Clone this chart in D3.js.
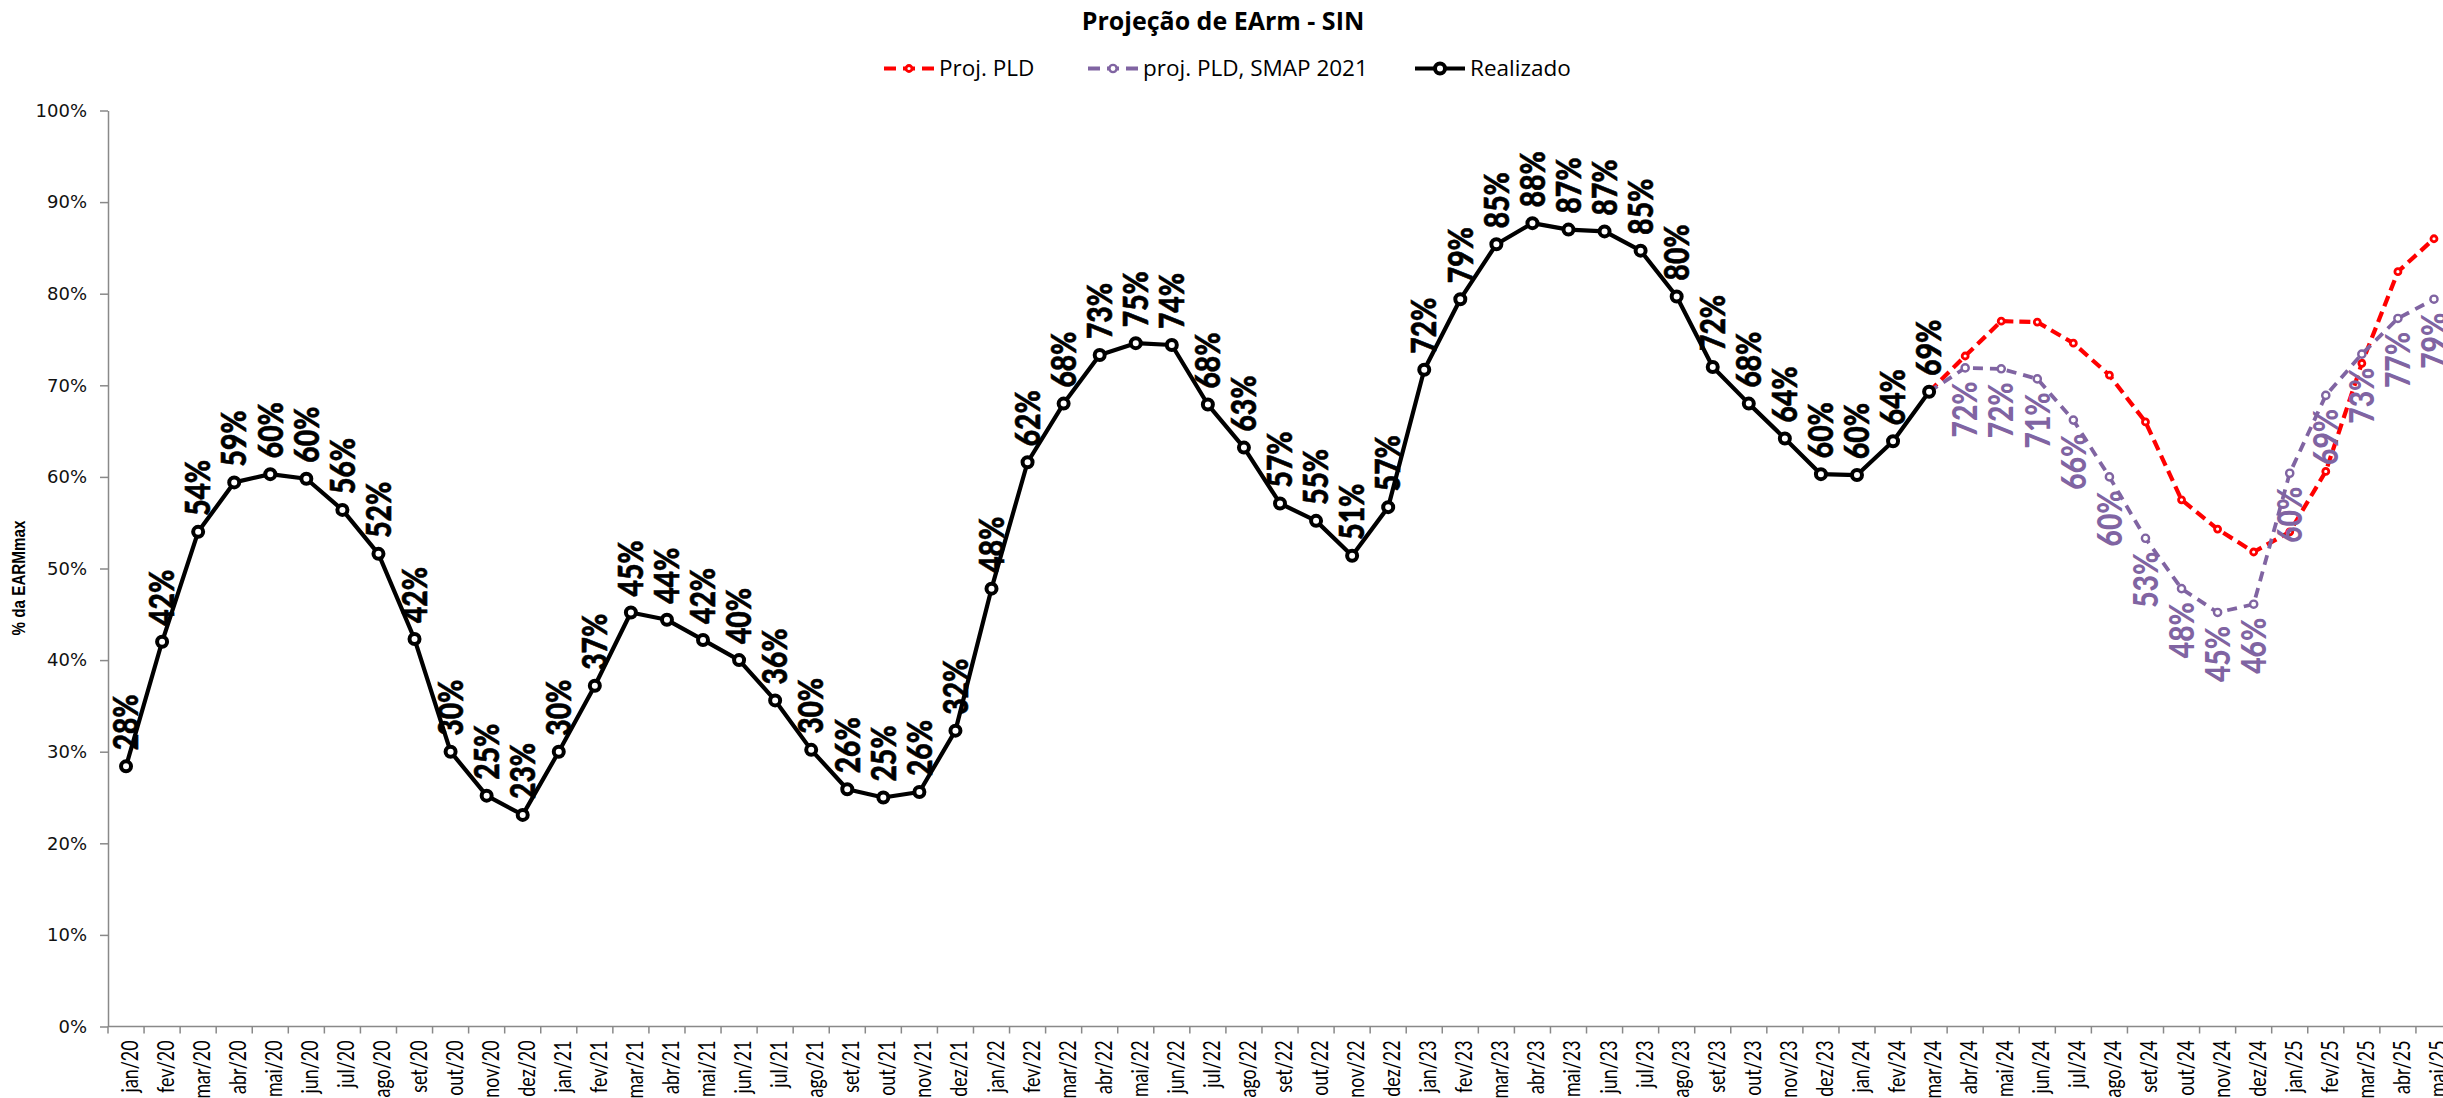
<!DOCTYPE html>
<html>
<head>
<meta charset="utf-8">
<script src="https://cdn.jsdelivr.net/npm/d3@7"></script>
<style>
  html, body { margin: 0; padding: 0; background: #fff; overflow: hidden; }
  svg { display: block; }
</style>
</head>
<body>
<svg id="chart" width="2443" height="1098"></svg>
<script>
// ---- data -------------------------------------------------------------
const months = [
  "jan/20","fev/20","mar/20","abr/20","mai/20","jun/20","jul/20","ago/20","set/20","out/20","nov/20","dez/20",
  "jan/21","fev/21","mar/21","abr/21","mai/21","jun/21","jul/21","ago/21","set/21","out/21","nov/21","dez/21",
  "jan/22","fev/22","mar/22","abr/22","mai/22","jun/22","jul/22","ago/22","set/22","out/22","nov/22","dez/22",
  "jan/23","fev/23","mar/23","abr/23","mai/23","jun/23","jul/23","ago/23","set/23","out/23","nov/23","dez/23",
  "jan/24","fev/24","mar/24","abr/24","mai/24","jun/24","jul/24","ago/24","set/24","out/24","nov/24","dez/24",
  "jan/25","fev/25","mar/25","abr/25","mai/25"
];

// Stored energy (% of EARMmax), observed, jan/20 .. mar/24
const realizado = [
  28.4, 42.0, 54.0, 59.4, 60.3, 59.8, 56.4, 51.6, 42.3, 30.0, 25.2, 23.1,
  30.0, 37.2, 45.2, 44.4, 42.2, 40.0, 35.6, 30.2, 25.9, 25.0, 25.6, 32.3,
  47.8, 61.6, 68.0, 73.3, 74.6, 74.4, 67.9, 63.2, 57.1, 55.2, 51.4, 56.7,
  71.7, 79.4, 85.4, 87.7, 87.0, 86.8, 84.7, 79.7, 72.0, 68.0, 64.2, 60.3,
  60.2, 63.9, 69.3
];

// Projections start from the last observed month
const projStart = "mar/24";
const projPLD = [69.3, 73.2, 77.0, 76.9, 74.6, 71.1, 66.0, 57.5, 54.3, 51.8, 54.0, 60.6, 72.4, 82.4, 86.0];
const projSMAP = [69.3, 71.9, 71.8, 70.7, 66.2, 60.0, 53.3, 47.8, 45.2, 46.1, 60.4, 68.9, 73.4, 77.3, 79.4];

const yTicks = [0, 10, 20, 30, 40, 50, 60, 70, 80, 90, 100];
const seriesNames = ["Proj. PLD", "proj. PLD, SMAP 2021", "Realizado"];
const chartTitle = "Projeção de EArm - SIN";
const yAxisTitle = "% da EARMmax";

// ---- layout -----------------------------------------------------------
const W = 2443, H = 1098;
const plot = { left: 108, right: 2452, top: 110.5, bottom: 1026.5 };
const colors = { pld: "#FF0000", smap: "#8064A2", real: "#000000", axis: "#898989" };
const labelFont = "Lato, 'Open Sans', sans-serif";

const svg = d3.select("#chart");
svg.append("rect").attr("width", W).attr("height", H).attr("fill", "#fff");

const x = d3.scaleBand().domain(months).range([plot.left, plot.right]).padding(0);
const cx = m => x(m) + x.bandwidth() / 2;
const y = d3.scaleLinear().domain([0, 100]).range([plot.bottom, plot.top]);

const pct = v => Math.round(v) + "%";
const startIdx = months.indexOf(projStart);
const realData = realizado.map((v, i) => ({ m: months[i], v }));
const pldData = projPLD.map((v, i) => ({ m: months[startIdx + i], v }));
const smapData = projSMAP.map((v, i) => ({ m: months[startIdx + i], v }));

// ---- title --------------------------------------------------------------
svg.append("text")
  .attr("x", 1223).attr("y", 30)
  .attr("text-anchor", "middle")
  .attr("font-family", "'Open Sans', sans-serif")
  .attr("font-weight", 700)
  .attr("font-size", 25)
  .attr("fill", "#000")
  .text(chartTitle);

// ---- y axis -----------------------------------------------------------
const yAxis = svg.append("g")
  .attr("transform", `translate(${plot.left},0)`)
  .call(d3.axisLeft(y).tickValues(yTicks).tickSize(8).tickSizeOuter(0).tickPadding(13)
    .tickFormat(d => d + "%"));
yAxis.select(".domain").attr("stroke", colors.axis).attr("stroke-width", 1.5);
yAxis.selectAll(".tick line").attr("stroke", colors.axis).attr("stroke-width", 1.5);
yAxis.selectAll(".tick text")
  .attr("font-family", "'DejaVu Sans', sans-serif")
  .attr("font-size", 18)
  .attr("fill", "#111");

svg.append("text")
  .attr("transform", `translate(18,578) rotate(-90) scale(0.8,1)`)
  .attr("text-anchor", "middle")
  .attr("dy", "0.35em")
  .attr("font-family", "'Liberation Sans', Arial, sans-serif")
  .attr("font-weight", 700)
  .attr("font-size", 19)
  .attr("fill", "#000")
  .text(yAxisTitle);

// ---- x axis -----------------------------------------------------------
const xAxis = svg.append("g");
xAxis.append("line")
  .attr("x1", plot.left).attr("x2", plot.right)
  .attr("y1", plot.bottom).attr("y2", plot.bottom)
  .attr("stroke", colors.axis).attr("stroke-width", 1.5);
const bounds = months.map(m => x(m)).concat([x.range()[1]]);
xAxis.selectAll("line.tick").data(bounds).join("line")
  .attr("class", "tick")
  .attr("x1", d => d).attr("x2", d => d)
  .attr("y1", plot.bottom).attr("y2", plot.bottom + 7)
  .attr("stroke", colors.axis).attr("stroke-width", 1.5);
xAxis.selectAll("text").data(months).join("text")
  .attr("transform", m => `translate(${cx(m) + 12},${plot.bottom + 14}) rotate(-90) scale(0.76,1)`)
  .attr("text-anchor", "end")
  .attr("font-family", labelFont)
  .attr("font-size", 23.5)
  .attr("fill", "#000")
  .text(m => m);

// ---- series -----------------------------------------------------------
const line = d3.line().x(d => cx(d.m)).y(d => y(d.v));

function drawSeries(data, color, width, dash, r, mw) {
  const g = svg.append("g");
  g.append("path").datum(data)
    .attr("d", line)
    .attr("fill", "none")
    .attr("stroke", color)
    .attr("stroke-width", width)
    .attr("stroke-dasharray", dash)
    .attr("stroke-linejoin", "round");
  g.selectAll("circle").data(data).join("circle")
    .attr("cx", d => cx(d.m)).attr("cy", d => y(d.v))
    .attr("r", r)
    .attr("fill", "#fff")
    .attr("stroke", color)
    .attr("stroke-width", mw);
}

drawSeries(pldData, colors.pld, 4.2, "11,6", 3, 2.8);
drawSeries(smapData, colors.smap, 3.8, "10,7", 3.6, 2.4);
drawSeries(realData, colors.real, 4.2, null, 5, 4);

// ---- data labels --------------------------------------------------------
function styleLabel(sel, color, outline) {
  sel.attr("dy", "0.36em")
    .attr("font-family", labelFont)
    .attr("font-weight", 900)
    .attr("font-size", 34)
    .attr("fill", color)
    .attr("stroke", outline ? color : null)
    .attr("stroke-width", outline ? 0.6 : null);
}

// projection with SMAP 2021: labels below the points (skip the shared start point)
svg.append("g").selectAll("text").data(smapData.slice(1)).join("text")
  .attr("transform", d => `translate(${cx(d.m)},${y(d.v) + 13.5}) rotate(-90) scale(0.83,1)`)
  .attr("text-anchor", "end")
  .call(styleLabel, colors.smap, false)
  .text(d => pct(d.v));

// observed: labels above the points
svg.append("g").selectAll("text").data(realData).join("text")
  .attr("transform", d => `translate(${cx(d.m)},${y(d.v) - 16}) rotate(-90) scale(0.83,1)`)
  .attr("text-anchor", "start")
  .call(styleLabel, colors.real, true)
  .text(d => pct(d.v));

// ---- legend -------------------------------------------------------------
const legendItems = [
  { name: seriesNames[0], color: colors.pld, width: 4.2, dash: true, r: 3, mw: 2.8, x: 884 },
  { name: seriesNames[1], color: colors.smap, width: 3.8, dash: true, r: 3.6, mw: 2.4, x: 1088 },
  { name: seriesNames[2], color: colors.real, width: 4.2, dash: false, r: 5, mw: 4, x: 1415 }
];
const legendY = 68.5;
const legend = svg.append("g").selectAll("g").data(legendItems).join("g")
  .attr("transform", d => `translate(${d.x},${legendY})`);
legend.append("line")
  .attr("x1", 0).attr("x2", 50).attr("y1", 0).attr("y2", 0)
  .attr("stroke", d => d.color)
  .attr("stroke-width", d => d.width)
  .attr("stroke-dasharray", d => d.dash ? "12,7" : null);
legend.append("circle")
  .attr("cx", 25).attr("cy", 0)
  .attr("r", d => d.r)
  .attr("fill", "#fff")
  .attr("stroke", d => d.color)
  .attr("stroke-width", d => d.mw);
legend.append("text")
  .attr("x", 55).attr("y", 0).attr("dy", "0.35em")
  .attr("font-family", "'Open Sans', sans-serif")
  .attr("font-size", 22.5)
  .attr("fill", "#000")
  .text(d => d.name);
</script>
</body>
</html>
